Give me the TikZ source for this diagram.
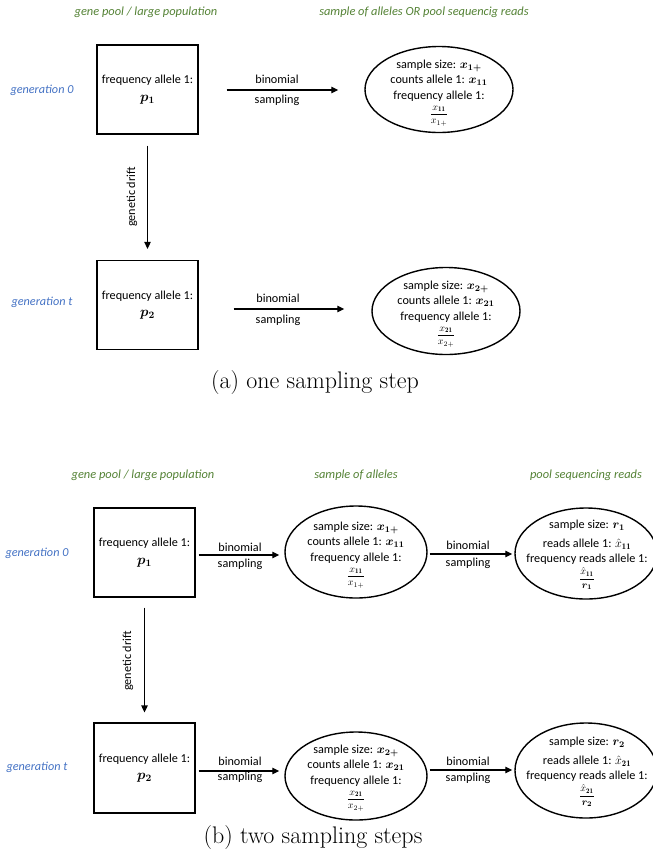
\RequirePackage{fix-cm}
\documentclass[tikz,border=0pt]{standalone}
\usepackage{amsmath}
\usepackage{fontspec}
\newfontfamily\calfont{Carlito}
\usetikzlibrary{arrows.meta,shapes.geometric}
\definecolor{hdrgreen}{RGB}{84,130,53}
\definecolor{genblue}{RGB}{68,114,196}
\newcommand{\frc}[2]{{\fontsize{10}{12}\selectfont$\dfrac{#1}{#2}$}}
\newcommand{\pmath}[1]{{\fontsize{14}{16}\selectfont$\boldsymbol{#1}$}}
\begin{document}
\begin{tikzpicture}[x=1pt,y=-1pt,
  every node/.style={font=\calfont\fontsize{12.2}{15.5}\selectfont, inner sep=0pt},
  popbox/.style={draw, line width=1.3pt, minimum width=101pt, minimum height=89pt, align=center},
  samp/.style={draw, ellipse, line width=1.4pt},
  stext/.style={align=center},
  arr/.style={-{Triangle[length=7pt,width=6.5pt]}, line width=1.3pt},
  hdr/.style={text=hdrgreen, font=\calfont\itshape\fontsize{12.4}{14}\selectfont},
  gen/.style={text=genblue, font=\calfont\itshape\fontsize{12.2}{14}\selectfont},
  captext/.style={font=\fontsize{24}{28}\selectfont}
]
\clip (0,0) rectangle (653,857);
\useasboundingbox (0,0) rectangle (653,857);

% ---------- (a) ----------
\node[hdr] (ha1) at (146,12) {gene pool / large population};
\node[hdr] (ha2) at (424,12) {sample of alleles OR pool sequencig reads};
\node[gen] (ga0) at (42,90) {generation 0};
\node[gen] (gat) at (42,302) {generation t};

\node[popbox] (A1) at (147.5,89.5) {frequency allele 1:\\[2pt] \pmath{p_1}};
\node[popbox] (A2) at (147.5,305) {frequency allele 1:\\[2pt] \pmath{p_2}};

\node[samp, minimum width=148pt, minimum height=86pt] (EA1) at (439,89.5) {};
\node[stext] (EA1t) at (439,93) {sample size: $\boldsymbol{x_{1+}}$\\ counts allele 1: $\boldsymbol{x_{11}}$\\ frequency allele 1:\\[2pt] \frc{x_{\mathbf{11}}}{x_{1+}}};
\node[samp, minimum width=148pt, minimum height=87pt] (EA2) at (446,311) {};
\node[stext] (EA2t) at (446,314) {sample size: $\boldsymbol{x_{2+}}$\\ counts allele 1: $\boldsymbol{x_{21}}$\\ frequency allele 1:\\[2pt] \frc{x_{\mathbf{21}}}{x_{2+}}};

\draw[arr, shorten <=28pt, shorten >=26pt] ([yshift=-0.5pt]A1.east) -- ([yshift=-0.5pt]A1.east -| EA1.west);
\node (la1) at (277,79) {binomial};
\node (la2) at (277,100) {sampling};
\draw[arr, shorten <=35pt, shorten >=27pt] ([yshift=-4pt]A2.east) -- ([yshift=-4pt]A2.east -| EA2.west);
\node (la3) at (278,298) {binomial};
\node (la4) at (278,320) {sampling};

\draw[arr, shorten <=11pt, shorten >=11pt] (A1.south) -- (A2.north);
\node[rotate=90] (da) at (132,197) {genetic drift};

\node[captext] (capa) at (315,383) {(a) one sampling step};

% ---------- (b) ----------
\node[hdr] (hb1) at (143,475) {gene pool / large population};
\node[hdr] (hb2) at (356,475) {sample of alleles};
\node[hdr] (hb3) at (586,475) {pool sequencing reads};
\node[gen] (gb0) at (37,553) {generation 0};
\node[gen] (gbt) at (37,767) {generation t};

\node[popbox] (B1) at (144.5,552.5) {frequency allele 1:\\[2pt] \pmath{p_1}};
\node[popbox, minimum height=90pt] (B2) at (144.5,768) {frequency allele 1:\\[2pt] \pmath{p_2}};

\node[samp, minimum width=142pt, minimum height=92pt] (EB1) at (356,552) {};
\node[stext] (EB1t) at (356,555) {sample size: $\boldsymbol{x_{1+}}$\\ counts allele 1: $\boldsymbol{x_{11}}$\\ frequency allele 1:\\[2pt] \frc{x_{\mathbf{11}}}{x_{1+}}};
\node[samp, minimum width=142pt, minimum height=88pt] (EB2) at (356,776) {};
\node[stext] (EB2t) at (356,778) {sample size: $\boldsymbol{x_{2+}}$\\ counts allele 1: $\boldsymbol{x_{21}}$\\ frequency allele 1:\\[2pt] \frc{x_{\mathbf{21}}}{x_{2+}}};

\node[samp, minimum width=142pt, minimum height=91pt] (RB1) at (586,553.5) {};
\node[stext] (RB1t) at (587,555) {sample size: $\boldsymbol{r_1}$\\[3pt] reads allele 1: $\hat{x}_{\mathbf{11}}$\\ frequency reads allele 1:\\[2pt] \frc{\hat{x}_{\mathbf{11}}}{\boldsymbol{r_1}}};
\node[samp, minimum width=142pt, minimum height=95pt] (RB2) at (586,770.5) {};
\node[stext] (RB2t) at (587,772) {sample size: $\boldsymbol{r_2}$\\[3pt] reads allele 1: $\hat{x}_{\mathbf{21}}$\\ frequency reads allele 1:\\[2pt] \frc{\hat{x}_{\mathbf{21}}}{\boldsymbol{r_2}}};

\draw[arr, shorten <=3pt, shorten >=5pt] ([yshift=-2.5pt]B1.east) -- ([yshift=-2.5pt]B1.east -| EB1.west);
\node (lb1) at (240,547) {binomial};
\node (lb2) at (240,564) {sampling};
\draw[arr, shorten <=3pt, shorten >=5pt] ([yshift=-3pt]B2.east) -- ([yshift=-3pt]B2.east -| EB2.west);
\node (lb3) at (240,761) {binomial};
\node (lb4) at (240,777) {sampling};

\draw[arr, shorten <=2pt, shorten >=2pt] ([yshift=-2pt]EB1.east) -- ([yshift=-2pt]EB1.east -| RB1.west);
\node (lb5) at (468,545) {binomial};
\node (lb6) at (468,563) {sampling};
\draw[arr, shorten <=2pt, shorten >=2pt] ([yshift=6pt]EB2.east) -- ([yshift=6pt]EB2.east -| RB2.west);
\node (lb7) at (468,761) {binomial};
\node (lb8) at (468,778) {sampling};

\draw[arr, shorten <=10pt, shorten >=10pt] (B1.south) -- (B2.north);
\node[rotate=90] (db) at (128,661) {genetic drift};

\node[captext] (capb) at (313,838) {(b) two sampling steps};
\end{tikzpicture}
\end{document}
